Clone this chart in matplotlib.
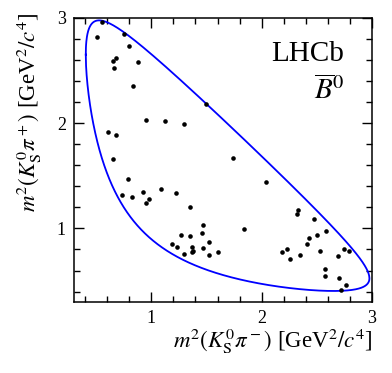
import numpy as np
import matplotlib
matplotlib.use("Agg")
import matplotlib.pyplot as plt
from matplotlib.ticker import MultipleLocator

plt.rcParams['font.family'] = ['Liberation Serif', 'DejaVu Serif']
plt.rcParams['mathtext.fontset'] = 'stix'

# candidates: m2(KS pi-), m2(KS pi+) in GeV^2/c^4
m2_kspim = [0.504, 0.556, 0.752, 0.794, 0.649, 0.683, 0.665, 0.876, 0.837, 1.492,
            0.951, 1.121, 1.296, 0.610, 0.683, 0.649, 1.740,
            0.791, 0.731, 0.824, 0.924, 0.948, 0.976, 1.087, 1.220, 1.347,
            1.468, 1.459, 1.266, 1.354, 1.187, 1.236, 1.293, 1.368, 1.377,
            1.372, 1.468, 1.526, 1.526, 1.607,
            2.039, 1.843, 2.333, 2.324, 2.474, 2.583, 2.505, 2.429, 2.408,
            2.181, 2.233, 2.257, 2.351, 2.532, 2.695, 2.743, 2.795, 2.577,
            2.577, 2.698, 2.762, 2.716]
m2_kspip = [2.818, 2.964, 2.843, 2.735, 2.592, 2.623, 2.522, 2.580, 2.354, 2.185,
            2.027, 2.023, 1.994, 1.915, 1.887, 1.658, 1.670,
            1.467, 1.315, 1.296, 1.343, 1.245, 1.279, 1.375, 1.337, 1.200,
            1.032, 0.955, 0.933, 0.930, 0.854, 0.828, 0.759, 0.822, 0.790,
            0.778, 0.812, 0.867, 0.746, 0.774,
            1.439, 0.993, 1.178, 1.140, 1.086, 0.971, 0.933, 0.908, 0.854,
            0.774, 0.809, 0.711, 0.743, 0.787, 0.740, 0.803, 0.784, 0.616,
            0.549, 0.526, 0.463, 0.416]

# masses for the D -> KS pi pi Dalitz boundary (GeV/c^2)
m_D = 1.86484
m_KS = 0.497611
m_pi = 0.13957

# kinematic boundary: for each m2(KS pi-) get the m2(KS pi+) range
s = np.linspace((m_KS + m_pi)**2, (m_D - m_pi)**2, 2000)
rs = np.sqrt(s)
E1 = (s - m_pi**2 + m_KS**2) / (2 * rs)
E3 = (m_D**2 - s - m_pi**2) / (2 * rs)
p1 = np.sqrt(np.clip(E1**2 - m_KS**2, 0, None))
p3 = np.sqrt(np.clip(E3**2 - m_pi**2, 0, None))
y_lo = (E1 + E3)**2 - (p1 + p3)**2
y_hi = (E1 + E3)**2 - (p1 - p3)**2
bx = np.concatenate([s, s[::-1], s[:1]])
by = np.concatenate([y_lo, y_hi[::-1], y_lo[:1]])

fig = plt.figure(figsize=(3.92, 3.73), dpi=100)
ax = fig.add_axes([0.189, 0.190, 0.760, 0.762])

ax.plot(bx, by, color='#0000ff', lw=1.3)
ax.plot(m2_kspim, m2_kspip, 'o', color='black', ms=3.3, mec='none')

ax.set_xlim(0.3, 3.0)
ax.set_ylim(0.3, 3.0)
for a in (ax.xaxis, ax.yaxis):
    a.set_major_locator(MultipleLocator(1))
    a.set_minor_locator(MultipleLocator(0.2))
ax.tick_params(which='both', direction='in', top=True, right=True, labelsize=13, width=1)
ax.tick_params(which='major', length=7, pad=6)
ax.tick_params(which='minor', length=4)
for sp in ax.spines.values():
    sp.set_linewidth(1.1)

ax.set_xlabel(r'$m^2(K^0_{\rm S}\pi^-)$ [GeV$^2/c^4$]', fontsize=16.5, loc='right')
ax.xaxis.set_label_coords(1.0, -0.085)
ax.set_ylabel(r'$m^2(K^0_{\rm S}\pi^+)$ [GeV$^2/c^4$]', fontsize=16.5, loc='top')
ax.yaxis.set_label_coords(-0.102, 1.018)

ax.text(0.906, 0.850, 'LHCb', transform=ax.transAxes, ha='right', va='baseline', fontsize=21)
ax.text(0.906, 0.715, r'$\overline{B}^0$', transform=ax.transAxes, ha='right', va='baseline', fontsize=21)

fig.savefig('out.png', dpi=100)
